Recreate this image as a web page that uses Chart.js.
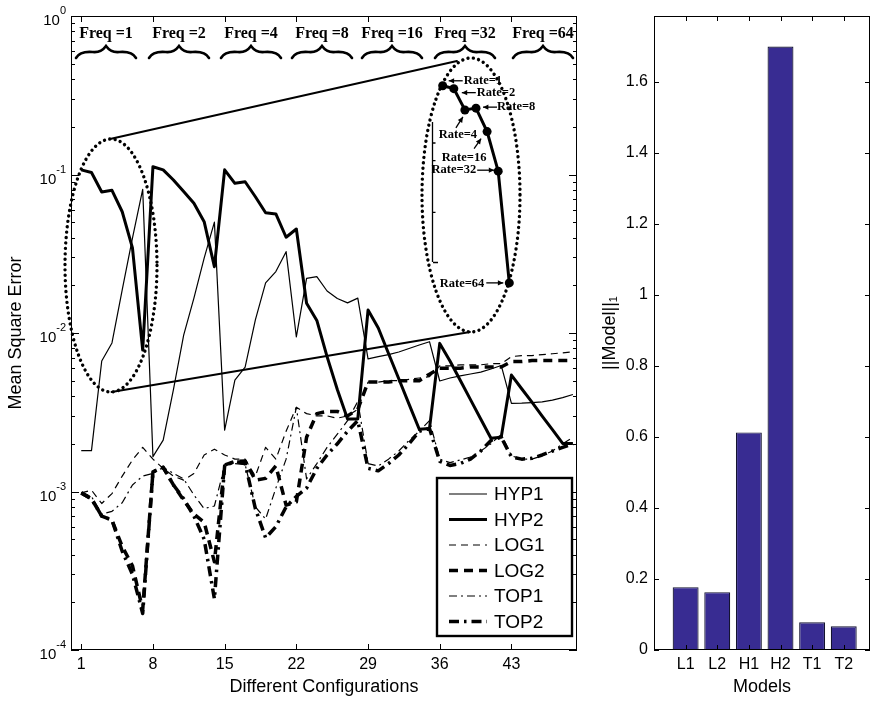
<!DOCTYPE html>
<html><head><meta charset="utf-8">
<script src="https://cdn.jsdelivr.net/npm/chart.js@4.4.1/dist/chart.umd.min.js"></script>
<style>
html,body{margin:0;padding:0;background:#fff;}
#wrap{position:relative;width:877px;height:701px;background:#fff;}
#c1{position:absolute;left:0;top:0;width:590px;height:701px;}
#c2{position:absolute;left:590px;top:0;width:287px;height:701px;}
</style></head><body>
<div id="wrap">
<canvas id="c1" width="590" height="701"></canvas>
<canvas id="c2" width="287" height="701"></canvas>
</div>
<script>
// ---------- DATA ----------
const configurations = [1,2,3,4,5,6,7,8,9,10,11,12,13,14,15,16,17,18,19,20,21,22,23,24,25,26,27,28,29,30,31,32,33,34,35,36,37,38,39,40,41,42,43,44,45,46,47,48,49];
const xTickValues = [1,8,15,22,29,36,43];
const yTickExponents = [-4,-3,-2,-1,0];
const seriesNames = ['HYP1','HYP2','LOG1','LOG2','TOP1','TOP2'];
const hyp1 = [0.00181,0.00181,0.00666,0.00865,0.0187,0.0397,0.0807,
  0.00166,0.00211,0.0044,0.0097,0.0166,0.0297,0.0501,
  0.00244,0.00505,0.0061,0.0121,0.0207,0.0244,0.0326,
  0.00944,0.0221,0.0227,0.0184,0.0165,0.0155,0.0166,
  0.00686,0.0071,0.00731,0.00759,0.00798,0.0084,0.00881,
  0.00498,0.0052,0.00536,0.00551,0.00567,0.00593,0.00624,
  0.0036,0.00361,0.00364,0.00368,0.00377,0.00391,0.00409];
const hyp2 = [0.107,0.103,0.0776,0.0795,0.0582,0.0344,0.0078,
  0.112,0.107,0.0923,0.078,0.0658,0.0504,0.0262,
  0.107,0.088,0.090,0.0724,0.0574,0.0564,0.0402,
  0.0453,0.0154,0.0120,0.0071,0.0044,0.00287,0.00287,
  0.01396,0.01076,0.00743,0.00514,0.00356,0.00247,0.0025,
  0.0086,0.00666,0.00503,0.0038,0.00287,0.00217,0.0022,
  0.00543,0.00445,0.00366,0.00299,0.00246,0.00201,0.00201];
const log1 = [0.00098,0.00102,0.00084,0.00097,0.00125,0.00158,0.0019,
  0.0016,0.0014,0.00125,0.00118,0.0013,0.0017,0.00185,
  0.0017,0.0016,0.0016,0.00125,0.0019,0.0016,0.0024,
  0.0034,0.0031,0.0030,0.0030,0.0029,0.0030,0.0033,
  0.0049,0.0049,0.0050,0.0050,0.0051,0.0052,0.0053,
  0.0062,0.0062,0.0063,0.0063,0.0063,0.0064,0.0064,
  0.0071,0.0072,0.0072,0.0073,0.0074,0.0075,0.0076];
const log2 = [0.00098,0.00090,0.00070,0.00066,0.00045,0.00034,0.00018,
  0.00133,0.00142,0.0011,0.00088,0.00072,0.00064,0.00036,
  0.00147,0.00155,0.00156,0.00118,0.00121,0.00145,0.00082,
  0.00086,0.0022,0.0031,0.0032,0.0032,0.0030,0.0033,
  0.0049,0.0049,0.0049,0.0050,0.0050,0.0050,0.0055,
  0.0060,0.0060,0.0060,0.0061,0.0061,0.0061,0.0061,
  0.0066,0.0066,0.0067,0.0067,0.0067,0.0067,0.0067];
const top1 = [0.00098,0.00093,0.00072,0.00075,0.00085,0.0011,0.00125,
  0.0013,0.00142,0.0013,0.0012,0.00095,0.00078,0.00081,
  0.00145,0.0015,0.00148,0.0008,0.00067,0.00105,0.0016,
  0.0034,0.0012,0.0015,0.0019,0.0023,0.0028,0.0037,
  0.0015,0.00145,0.0016,0.0018,0.0021,0.0024,0.0028,
  0.0016,0.00152,0.00158,0.00165,0.0018,0.0020,0.0023,
  0.00168,0.0016,0.0016,0.00168,0.0018,0.0020,0.0022];
const top2 = [0.00098,0.00090,0.0007,0.00066,0.00042,0.0003,0.00017,
  0.00133,0.00142,0.0011,0.0009,0.0007,0.0005,0.00021,
  0.00145,0.00155,0.0015,0.00078,0.00051,0.0006,0.0008,
  0.00093,0.00105,0.0014,0.0017,0.0020,0.0024,0.0028,
  0.0014,0.00135,0.0015,0.0017,0.0020,0.0024,0.0025,
  0.00155,0.00146,0.0015,0.0016,0.0018,0.0021,0.0022,
  0.00165,0.0016,0.00162,0.0017,0.0018,0.0019,0.0020];
const rateIndex = [1,2,3,4,5,6,7];
const rateLabels = ['Rate=1','Rate=2','Rate=4','Rate=8','Rate=16','Rate=32','Rate=64'];
const freqLabels = ['Freq =1','Freq =2','Freq =4','Freq =8','Freq =16','Freq =32','Freq =64'];

const models = ['L1','L2','H1','H2','T1','T2'];
const modelNorms = [0.177,0.163,0.613,1.70,0.078,0.067];
const barTickValues = [0,0.2,0.4,0.6,0.8,1,1.2,1.4,1.6];

// ---------- STYLE ----------
const SANS = 'Liberation Sans, Arial, Helvetica, sans-serif';
const SERIF = 'Liberation Serif, Times New Roman, serif';
Chart.defaults.font.family = SANS;
Chart.defaults.color = '#000';
Chart.defaults.animation = false;

const lineStyles = [
  {w:1.2, dash:[]}, {w:3, dash:[]},
  {w:1.2, dash:[7,5]}, {w:3.5, dash:[9,6]},
  {w:1.2, dash:[8,4,2,4]}, {w:3.5, dash:[10,5,2.5,5]}
];
const seriesData = [hyp1,hyp2,log1,log2,top1,top2];

const datasets = seriesData.map((arr,k)=>({
  label: seriesNames[k],
  data: arr.map((v,i)=>({x:configurations[i], y:v})),
  borderColor:'#000', backgroundColor:'#000',
  borderWidth: lineStyles[k].w, borderDash: lineStyles[k].dash,
  pointRadius:0, fill:false, tension:0, xAxisID:'x', yAxisID:'y',
  borderJoinStyle:'round'
}));
datasets.push({
  label:'inset',
  data: hyp2.slice(0,7).map((v,i)=>({x:rateIndex[i], y:v})),
  borderColor:'#000', backgroundColor:'#000', borderWidth:3,
  pointRadius:4.5, pointBorderWidth:0, pointBackgroundColor:'#000',
  xAxisID:'xi', yAxisID:'yi', tension:0
});

function brace(ctx, cx, yb, w){
  ctx.beginPath();
  ctx.moveTo(cx-w, yb+6);
  ctx.quadraticCurveTo(cx-w+4, yb-1, cx-w*0.45, yb);
  ctx.quadraticCurveTo(cx-5, yb+1, cx, yb-6);
  ctx.quadraticCurveTo(cx+5, yb+1, cx+w*0.45, yb);
  ctx.quadraticCurveTo(cx+w-4, yb-1, cx+w, yb+6);
  ctx.stroke();
}
function arrow(ctx, x1,y1,x2,y2){
  ctx.beginPath(); ctx.moveTo(x1,y1); ctx.lineTo(x2,y2); ctx.stroke();
  const a=Math.atan2(y2-y1,x2-x1), L=6, s=0.45;
  ctx.beginPath();
  ctx.moveTo(x2,y2);
  ctx.lineTo(x2-L*Math.cos(a-s), y2-L*Math.sin(a-s));
  ctx.lineTo(x2-L*Math.cos(a+s), y2-L*Math.sin(a+s));
  ctx.closePath(); ctx.fill();
}

const leftPlugin = {
  id:'leftDecor',
  afterDraw(chart){
    const ctx=chart.ctx, ca=chart.chartArea, xs=chart.scales.x, ys=chart.scales.y;
    ctx.save();
    ctx.strokeStyle='#000'; ctx.fillStyle='#000'; ctx.lineWidth=1; ctx.setLineDash([]);
    ctx.strokeRect(ca.left+0.5, ca.top+0.5, ca.right-ca.left-1, ca.bottom-ca.top-1);
    ctx.beginPath();
    xTickValues.forEach(v=>{
      const p=Math.round(xs.getPixelForValue(v))+0.5;
      ctx.moveTo(p,ca.bottom); ctx.lineTo(p,ca.bottom-6);
      ctx.moveTo(p,ca.top); ctx.lineTo(p,ca.top+6);
    });
    yTickExponents.forEach(d=>{
      const p=Math.round(ys.getPixelForValue(Math.pow(10,d)))+0.5;
      ctx.moveTo(ca.left,p); ctx.lineTo(ca.left+8,p);
      ctx.moveTo(ca.right,p); ctx.lineTo(ca.right-8,p);
      if(d<0){ for(let k=2;k<=9;k++){
        const q=Math.round(ys.getPixelForValue(k*Math.pow(10,d)))+0.5;
        ctx.moveTo(ca.left,q); ctx.lineTo(ca.left+4,q);
        ctx.moveTo(ca.right,q); ctx.lineTo(ca.right-4,q);
      }}
    });
    ctx.stroke();
    yTickExponents.forEach(d=>{
      const p=ys.getPixelForValue(Math.pow(10,d));
      const e = d===0 ? '0' : '-'+Math.abs(d);
      ctx.font='11px '+SANS; const ew=ctx.measureText(e).width;
      ctx.font='15px '+SANS; const bw=ctx.measureText('10').width;
      const right = ca.left-5;
      ctx.textBaseline='middle'; ctx.textAlign='left';
      ctx.fillText('10', right-ew-bw, p+5);
      ctx.font='11px '+SANS; ctx.fillText(e, right-ew, p-5);
    });
    const fc=[106,179,251,322,392,465,543];
    ctx.font='bold 16px '+SERIF; ctx.textAlign='center'; ctx.textBaseline='middle';
    freqLabels.forEach((t,i)=>ctx.fillText(t, fc[i], 34));
    ctx.lineWidth=2.6; ctx.lineCap='round';
    fc.forEach(c=>brace(ctx,c,52,30));
    ctx.lineWidth=1.8;
    ctx.beginPath(); ctx.moveTo(110,139); ctx.lineTo(457,61); ctx.stroke();
    ctx.beginPath(); ctx.moveTo(111.5,392); ctx.lineTo(470,332); ctx.stroke();
    ctx.setLineDash([0.01,5.4]); ctx.lineWidth=3.4; ctx.lineCap='round';
    ctx.beginPath(); ctx.ellipse(111,265.5,46,126.5,0,0,Math.PI*2); ctx.stroke();
    ctx.beginPath(); ctx.ellipse(471,195,49,137,0,0,Math.PI*2); ctx.stroke();
    ctx.setLineDash([]); ctx.lineCap='butt';
    ctx.lineWidth=1.3;
    ctx.beginPath(); ctx.moveTo(432.5,122); ctx.lineTo(432.5,262);
    [143,160.7,212.3].forEach(y=>{ctx.moveTo(432.5,y); ctx.lineTo(435.5,y);});
    ctx.moveTo(433,262.5); ctx.lineTo(438,262.5);
    ctx.stroke();
    const meta=chart.getDatasetMeta(datasets.length-1);
    const P=meta.data.map(e=>({x:e.x,y:e.y}));
    ctx.font='bold 12.5px '+SERIF; ctx.textBaseline='middle'; ctx.lineWidth=1.3;
    const L=[
      {i:0, tail:[20,-5], tip:[6,-5], txt:[21,-5], al:'left'},
      {i:1, tail:[22,4], tip:[8,4], txt:[23,4], al:'left'},
      {i:3, tail:[21,-1], tip:[7,-1], txt:[21,-1], al:'left'},
      {i:2, tail:[-9,18], tip:[-2,7], txt:[-7,25], al:'center'},
      {i:4, tail:[-13,17], tip:[-6,7], txt:[-23,26], al:'center'},
      {i:5, tail:[-21,-1], tip:[-4,-1], txt:[-22,-1], al:'right'},
      {i:6, tail:[-23,0], tip:[-6,0], txt:[-25,1], al:'right'}
    ];
    L.forEach(o=>{
      const p=P[o.i];
      arrow(ctx,p.x+o.tail[0],p.y+o.tail[1],p.x+o.tip[0],p.y+o.tip[1]);
      ctx.textAlign=o.al; ctx.fillText(rateLabels[o.i], p.x+o.txt[0], p.y+o.txt[1]);
    });
    const bx=437, by=478, bw=135, bh=158;
    ctx.fillStyle='#fff'; ctx.fillRect(bx,by,bw,bh);
    ctx.strokeStyle='#000'; ctx.lineWidth=2.4; ctx.strokeRect(bx,by,bw,bh);
    ctx.fillStyle='#000'; ctx.font='19px '+SANS; ctx.textAlign='left'; ctx.textBaseline='middle';
    seriesNames.forEach((n,k)=>{
      const y=494+k*25.5;
      ctx.lineWidth=lineStyles[k].w; ctx.setLineDash(lineStyles[k].dash);
      ctx.beginPath(); ctx.moveTo(449,y); ctx.lineTo(487,y); ctx.stroke();
      ctx.setLineDash([]);
      ctx.fillText(n,494,y+1);
    });
    ctx.restore();
  }
};

new Chart(document.getElementById('c1'), {
  type:'line',
  data:{datasets},
  options:{
    responsive:false, animation:false, parsing:true,
    layout:{padding:{left:0,right:13,top:16,bottom:0}},
    plugins:{legend:{display:false}, tooltip:{enabled:false}},
    scales:{
      x:{type:'linear', min:0, max:49.4,
        grid:{display:false, drawTicks:false}, border:{display:false},
        afterBuildTicks:s=>{s.ticks=xTickValues.map(v=>({value:v}));},
        ticks:{font:{size:16}, padding:5, maxRotation:0, autoSkip:false, callback:v=>String(v)},
        title:{display:true, text:'Different Configurations', font:{size:18}, padding:{top:0,bottom:3}},
        afterFit:s=>{s.height=51;}
      },
      y:{type:'logarithmic', min:1e-4, max:1,
        grid:{display:false, drawTicks:false}, border:{display:false},
        ticks:{display:false},
        afterBuildTicks:s=>{s.ticks=yTickExponents.map(d=>({value:Math.pow(10,d)}));},
        title:{display:true, text:'Mean Square Error', font:{size:18}, padding:{top:5,bottom:0}},
        afterFit:s=>{s.width=71;}
      },
      xi:{type:'linear', display:false, min:-32.49, max:13.1},
      yi:{type:'logarithmic', display:false, min:5.94e-5, max:0.2704}
    }
  },
  plugins:[leftPlugin]
});

const rightPlugin = {
  id:'rightDecor',
  afterDraw(chart){
    const ctx=chart.ctx, ca=chart.chartArea, xs=chart.scales.x, ys=chart.scales.y;
    ctx.save(); ctx.strokeStyle='#000'; ctx.lineWidth=1;
    ctx.strokeRect(ca.left+0.5, ca.top+0.5, ca.right-ca.left-1, ca.bottom-ca.top-1);
    ctx.beginPath();
    models.forEach((m,i)=>{
      const p=Math.round(xs.getPixelForValue(i+1))+0.5;
      ctx.moveTo(p,ca.top); ctx.lineTo(p,ca.top+5);
      ctx.moveTo(p,ca.bottom); ctx.lineTo(p,ca.bottom-5);
    });
    barTickValues.forEach(v=>{
      const p=Math.round(ys.getPixelForValue(v))+0.5;
      ctx.moveTo(ca.left,p); ctx.lineTo(ca.left+5,p);
      ctx.moveTo(ca.right,p); ctx.lineTo(ca.right-5,p);
    });
    ctx.stroke(); ctx.restore();
  }
};

new Chart(document.getElementById('c2'), {
  type:'bar',
  data:{datasets:[{
    label:'||Model||1',
    data: modelNorms.map((v,i)=>({x:i+1, y:v})),
    backgroundColor:'rgb(56,44,146)', borderColor:'#141430', borderWidth:1.2,
    categoryPercentage:1, barPercentage:0.82
  }]},
  options:{
    responsive:false, animation:false,
    layout:{padding:{left:0,right:7,top:16,bottom:0}},
    plugins:{legend:{display:false}, tooltip:{enabled:false}},
    scales:{
      x:{type:'linear', min:0, max:6.83, offset:false,
        grid:{display:false, drawTicks:false}, border:{display:false},
        afterBuildTicks:s=>{s.ticks=models.map((m,i)=>({value:i+1}));},
        ticks:{font:{size:16}, padding:5, autoSkip:false, maxRotation:0, callback:v=>models[v-1]},
        title:{display:true, text:'Models', font:{size:18}, padding:{top:0,bottom:3}},
        afterFit:s=>{s.height=51;}
      },
      y:{type:'linear', min:0, max:1.786,
        grid:{display:false, drawTicks:false}, border:{display:false},
        afterBuildTicks:s=>{s.ticks=barTickValues.map(v=>({value:v}));},
        ticks:{font:{size:16}, padding:6, callback:v=>String(Math.round(v*10)/10)},
        title:{display:true, text:'||Model||\u2081', font:{size:18}, padding:{top:9,bottom:0}},
        afterFit:s=>{s.width=64;}
      }
    }
  },
  plugins:[rightPlugin]
});
</script>
</body></html>
